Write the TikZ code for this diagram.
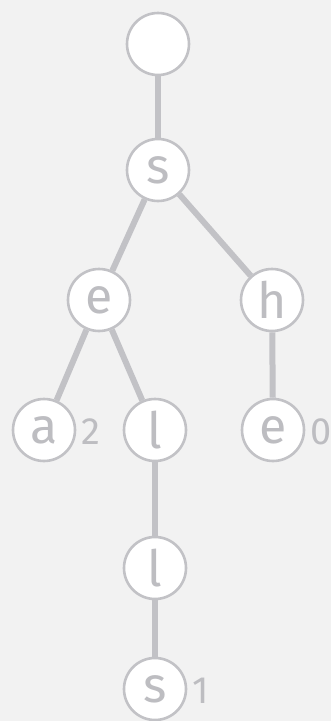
\documentclass[tikz,border=0pt]{standalone}
\usepackage{fontspec}
\setmainfont{Fira Sans}
\definecolor{bgcol}{HTML}{F2F2F2}
\definecolor{trieline}{HTML}{C2C2C6}
\definecolor{trietext}{HTML}{BDBDC1}
\pgfdeclarelayer{back}
\pgfdeclarelayer{edges}
\pgfsetlayers{back,edges,main}
\begin{document}
\begin{tikzpicture}
        [x=1pt, y=-1pt, node/.style={circle, draw=trieline, fill=white, line width=2.6pt,
        minimum size=62pt, inner sep=0pt, text=trietext, font=\fontsize{50}{50}\selectfont},
        edge/.style={trieline, line width=6pt},
        val/.style={text=trietext, font=\fontsize{38}{38}\selectfont, anchor=west, inner sep=0pt}]

        \begin{pgfonlayer}{back}
        \fill[bgcol] (0,0) rectangle (331,721);
        \end{pgfonlayer}
        \useasboundingbox (0,0) rectangle (331,721);

        \node[node] (root) at (158,44) {};
        \node[node] (s) at (158,170) {s};
        \node[node] (e) at (99,300) {e};
        \node[node] (h) at (272,300) {h};
        \node[node] (a) at (44,430) {a};
        \node[node] (l) at (155,430) {l};
        \node[node] (e2) at (273,430) {e};
        \node[node] (l2) at (155,568) {l};
        \node[node] (s2) at (155,689) {s};

        % values stored at the ends of keys
        \node[val] (v2) at ([xshift=5pt, yshift=-2pt]a.east) {2};
        \node[val] (v0) at ([xshift=5pt, yshift=-2pt]e2.east) {0};
        \node[val] (v1) at ([xshift=5pt, yshift=-2pt]s2.east) {1};

        \begin{pgfonlayer}{edges}
        \draw[edge] (root) -- (s);
        \draw[edge] (s) -- (e);
        \draw[edge] (s) -- (h);
        \draw[edge] (e) -- (a);
        \draw[edge] (e) -- (l);
        \draw[edge] (h) -- (e2);
        \draw[edge] (l) -- (l2);
        \draw[edge] (l2) -- (s2);
        \end{pgfonlayer}
    \end{tikzpicture}
\end{document}
